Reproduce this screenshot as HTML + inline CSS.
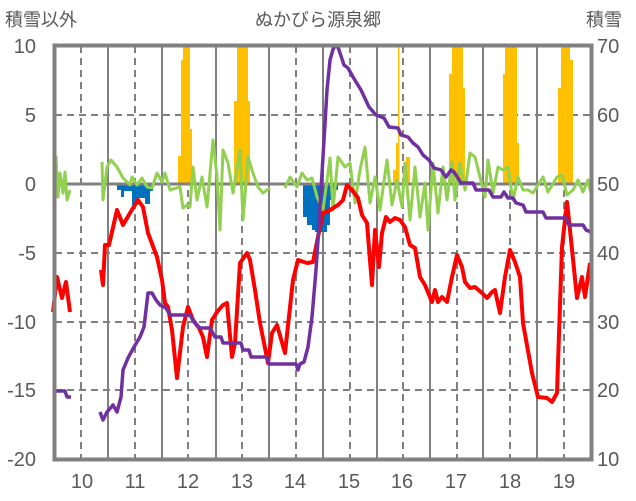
<!DOCTYPE html><html><head><meta charset="utf-8"><style>body{margin:0;background:#fff}svg{display:block}text{font-family:"Liberation Sans","Noto Sans CJK JP",sans-serif;fill:#595959}</style></head><body>
<svg width="636" height="501" viewBox="0 0 636 501" xmlns="http://www.w3.org/2000/svg">
<g stroke="#808080" stroke-width="2" stroke-dasharray="7,5">
<line x1="55" y1="115" x2="590" y2="115"/><line x1="55" y1="253" x2="590" y2="253"/><line x1="55" y1="322" x2="590" y2="322"/><line x1="55" y1="390" x2="590" y2="390"/>
<line x1="81" y1="46" x2="81" y2="459"/><line x1="135" y1="46" x2="135" y2="459"/><line x1="188" y1="46" x2="188" y2="459"/><line x1="242" y1="46" x2="242" y2="459"/><line x1="296" y1="46" x2="296" y2="459"/><line x1="350" y1="46" x2="350" y2="459"/><line x1="403" y1="46" x2="403" y2="459"/><line x1="457" y1="46" x2="457" y2="459"/><line x1="510" y1="46" x2="510" y2="459"/><line x1="564" y1="46" x2="564" y2="459"/>
</g>
<g stroke="#808080" stroke-width="2">
<line x1="108" y1="46" x2="108" y2="459"/><line x1="162" y1="46" x2="162" y2="459"/><line x1="216" y1="46" x2="216" y2="459"/><line x1="269" y1="46" x2="269" y2="459"/><line x1="323" y1="46" x2="323" y2="459"/><line x1="377" y1="46" x2="377" y2="459"/><line x1="430" y1="46" x2="430" y2="459"/><line x1="483" y1="46" x2="483" y2="459"/><line x1="537" y1="46" x2="537" y2="459"/>
</g>
<g fill="#FFC000">
<rect x="178" y="156" width="3" height="28"/><rect x="181" y="60" width="2" height="124"/><rect x="183" y="46" width="7" height="138"/><rect x="190" y="129" width="2" height="55"/>
<rect x="234" y="101" width="3" height="83"/><rect x="237" y="46" width="11" height="138"/><rect x="248" y="101" width="2" height="83"/>
<rect x="393" y="170" width="3" height="14"/><rect x="396" y="143" width="2" height="41"/><rect x="398" y="46" width="1.5" height="138"/><rect x="406" y="157" width="4" height="27"/>
<rect x="449" y="74" width="3" height="110"/><rect x="452" y="46" width="11" height="138"/><rect x="463" y="88" width="2" height="96"/>
<rect x="503" y="74" width="2" height="110"/><rect x="505" y="46" width="12" height="138"/><rect x="517" y="143" width="2" height="41"/>
<rect x="558" y="88" width="3" height="96"/><rect x="561" y="46" width="9" height="138"/><rect x="570" y="60" width="3" height="124"/>
</g>
<g fill="#0070C0">
<rect x="117" y="184" width="4" height="6"/><rect x="121" y="184" width="3" height="13"/><rect x="124" y="184" width="8" height="7"/><rect x="132" y="184" width="6" height="21"/><rect x="138" y="184" width="7" height="14"/><rect x="145" y="184" width="5" height="20"/><rect x="150" y="184" width="3" height="7"/>
<rect x="303" y="184" width="4" height="33"/><rect x="307" y="184" width="5" height="41"/><rect x="312" y="184" width="3" height="46"/><rect x="315" y="184" width="12" height="48"/><rect x="327" y="184" width="3" height="41"/><rect x="330" y="184" width="3" height="16"/><rect x="333" y="184" width="5" height="6"/>
</g>
<line x1="55" y1="184" x2="590" y2="184" stroke="#808080" stroke-width="3"/>
<g fill="none" stroke-width="3" stroke-linejoin="round">
<polyline stroke="#92D050" points="54,190 56,157 58,197 60,173 63,193 65,172 67,200 70,190"/>
<polyline stroke="#92D050" points="102,162 103,200 107,167 111,160 117,167 123,178 130,185 132,177 137,185 142,178 147,187 152,188 157,173 162,182 165,173 170,190 180,187 183,208 187,205 190,207 193,167 197,200 202,177 207,207 213,140 217,177 220,230 223,150 228,163 233,193 240,150 243,220 248,157 253,173 258,187 263,193 270,188"/>
<polyline stroke="#92D050" points="285,188 290,177 297,187 302,173 307,180 312,178 317,197 323,210 330,158 333,210 338,157 345,167 350,163 355,203 360,170 365,147 370,203 375,177 380,210 387,160 392,205 397,180 402,207 405,163 410,220 415,167 420,217 425,183 428,230 433,163 438,213 443,167 447,200 452,162 455,200 460,163 465,190 470,153 475,157 480,177 485,197 488,160 493,193 498,167 503,170 508,167 513,200 518,177 523,190 528,190 533,193 543,177 548,192 557,177 562,175 567,195 573,190 578,180 583,192 588,180 591,193"/>
<polyline stroke="#FF0000" stroke-width="4" points="53,312 57,277 62,298 66,282 70,312"/>
<polyline stroke="#FF0000" stroke-width="4" points="101,270 103,285 105,245 109,245 117,210 123,225 130,213 138,200 143,207 148,233 157,257 162,280 165,303 168,307 172,330 177,378 183,327 188,307 193,320 199,328 203,337 207,357 212,320 217,312 223,305 227,303 232,357 235,343 240,263 247,253 250,260 255,290 260,323 268,363 272,333 277,325 285,353 293,280 298,260 307,263 313,262 318,237 323,213 330,210 338,205 343,200 347,185 352,190 358,198 362,215 367,223 372,285 375,230 379,267 382,233 386,217 390,222 395,218 400,220 405,227 410,245 415,248 420,277 425,285 432,302 435,290 438,302 442,297 447,302 452,277 457,255 462,267 465,282 470,288 475,287 482,293 487,298 492,292 495,290 500,313 505,277 510,250 515,262 520,277 523,323 532,373 538,397 547,398 552,402 557,393 562,247 567,202 570,230 577,298 582,277 585,297 590,263"/>
<polyline stroke="#7030A0" stroke-width="3.5" points="54,391 65,391 67,397 71,397"/>
<polyline stroke="#7030A0" stroke-width="3.5" points="100,412 103,420 107,412 113,405 117,412 121,397 123,370 128,358 134,347 140,337 144,327 148,293 152,293 156,300 160,305 166,308 170,315 190,315 194,322 200,328 210,328 215,337 221,337 223,343 241,343 243,350 249,350 251,357 267,357 269,364 296,364 298,370 300,364 304,362 308,347 312,317 316,270 318,240 321,190 324,140 327,90 330,60 334,46 338,47 344,65 348,68 353,77 361,90 369,107 376,115 384,118 389,127 398,128 401,135 408,137 413,143 418,147 423,155 429,160 434,168 441,170 446,177 451,170 454,172 458,178 461,183 473,183 476,190 489,190 493,197 501,197 504,192 508,198 513,198 516,203 523,205 526,212 543,212 546,218 566,218 569,225 583,225 586,230 591,232"/>
</g>
<rect x="54.5" y="45.5" width="537" height="414" fill="none" stroke="#808080" stroke-width="4"/>
<g font-size="20" text-anchor="end">
<text x="36" y="53">10</text><text x="36" y="122">5</text><text x="36" y="191">0</text><text x="36" y="260">-5</text><text x="36" y="329">-10</text><text x="36" y="397">-15</text><text x="36" y="466">-20</text>
</g>
<g font-size="20">
<text x="597" y="53">70</text><text x="597" y="122">60</text><text x="597" y="191">50</text><text x="597" y="260">40</text><text x="597" y="329">30</text><text x="597" y="397">20</text><text x="597" y="466">10</text>
</g>
<g font-size="20" text-anchor="middle">
<text x="82" y="488">10</text><text x="135" y="488">11</text><text x="188" y="488">12</text><text x="242" y="488">13</text><text x="295" y="488">14</text><text x="349" y="488">15</text><text x="402" y="488">16</text><text x="456" y="488">17</text><text x="510" y="488">18</text><text x="564" y="488">19</text>
</g>
<text x="5" y="26" font-size="18">積雪以外</text>
<text x="318" y="26" font-size="18" text-anchor="middle">ぬかびら源泉郷</text>
<text x="586" y="26" font-size="18">積雪</text>
</svg></body></html>
